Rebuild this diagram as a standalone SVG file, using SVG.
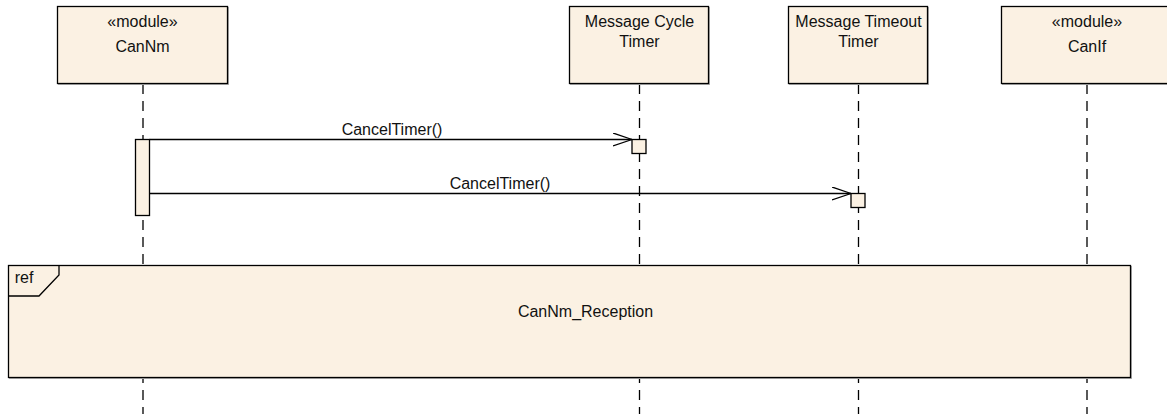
<svg xmlns="http://www.w3.org/2000/svg" width="1167" height="414" viewBox="0 0 1167 414">
  <style>
    .box { fill: #FBF1E3; stroke: #000; stroke-width: 1.3; }
    .shadow { fill: none; stroke: #B0B0B0; stroke-width: 1; }
    .life { stroke: #000; stroke-width: 1.3; stroke-dasharray: 10 7; fill: none; }
    .msg { stroke: #000; stroke-width: 1.3; fill: none; }
    .t { font-family: "Liberation Sans", Arial, sans-serif; font-size: 16px; fill: #111; text-anchor: middle; }
  </style>
  <defs>
    <marker id="open" viewBox="0 0 20 14" refX="19.5" refY="7" markerWidth="20" markerHeight="14" markerUnits="userSpaceOnUse" orient="auto">
      <path d="M0.5,0.5 L19.5,7 L0.5,13.5" fill="none" stroke="#000" stroke-width="1.3"/>
    </marker>
  </defs>

  <!-- lifelines -->
  <g id="lifelines">
    <line class="life" x1="143" y1="84" x2="143" y2="414"/>
    <line class="life" x1="639.5" y1="84" x2="639.5" y2="414"/>
    <line class="life" x1="858.5" y1="84" x2="858.5" y2="414"/>
    <line class="life" x1="1087" y1="84" x2="1087" y2="414"/>
  </g>

  <g id="CanNm">
    <rect class="shadow" x="58.5" y="7.5" width="170" height="77"/>
    <rect class="box" x="57.5" y="6.5" width="170" height="77"/>
    <text class="t" x="142.5" y="26.5">«module»</text>
    <text class="t" x="142.5" y="51.5">CanNm</text>
  </g>

  <g id="MessageCycleTimer">
    <rect class="shadow" x="570.5" y="7.5" width="139" height="77"/>
    <rect class="box" x="569.5" y="6.5" width="139" height="77"/>
    <text class="t" x="639.5" y="26.5">Message Cycle</text>
    <text class="t" x="639.5" y="46.5">Timer</text>
  </g>

  <g id="MessageTimeoutTimer">
    <rect class="shadow" x="789.5" y="7.5" width="139" height="77"/>
    <rect class="box" x="788.5" y="6.5" width="139" height="77"/>
    <text class="t" x="858.5" y="26.5">Message Timeout</text>
    <text class="t" x="858.5" y="46.5">Timer</text>
  </g>

  <g id="CanIf">
    <rect class="shadow" x="1002.5" y="7.5" width="171" height="77"/>
    <rect class="box" x="1001.5" y="6.5" width="171" height="77"/>
    <text class="t" x="1087" y="26.5">«module»</text>
    <text class="t" x="1087" y="51.5">CanIf</text>
  </g>

  <!-- activations -->
  <g id="activations">
    <rect class="box" x="135.5" y="139.5" width="14" height="76"/>
    <rect class="box" x="632" y="139.5" width="14" height="14"/>
    <rect class="box" x="851" y="193.5" width="14" height="14"/>
  </g>

  <g id="connectors">
    <line class="msg" x1="149.5" y1="139.5" x2="632" y2="139.5" marker-end="url(#open)"/>
    <text class="t" x="392" y="135">CancelTimer()</text>
    <line class="msg" x1="149.5" y1="193.5" x2="851" y2="193.5" marker-end="url(#open)"/>
    <text class="t" x="500" y="189">CancelTimer()</text>
  </g>

  <g id="CanNm_Reception">
    <rect class="shadow" x="9.5" y="266.5" width="1122" height="112"/>
    <rect class="box" x="8.5" y="265.5" width="1122" height="112"/>
    <path d="M8.5,296 L39,296 L59,275 L59,265.5" fill="none" stroke="#000" stroke-width="1.3"/>
    <text class="t" x="24" y="283">ref</text>
    <text class="t" x="585.5" y="317">CanNm_Reception</text>
  </g>
</svg>
